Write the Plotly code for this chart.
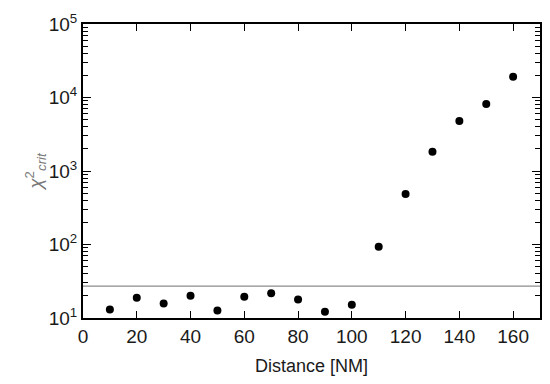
import plotly.graph_objects as go

distance = [10, 20, 30, 40, 50, 60, 70, 80, 90, 100, 110, 120, 130, 140, 150, 160]
chi2_crit = [13.1, 18.9, 15.8, 20.1, 12.6, 19.5, 21.7, 17.9, 12.2, 15.2,
             93, 486, 1830, 4790, 8130, 19200]
threshold = 27.2
x_range = [0, 170]
x_ticks = [0, 20, 40, 60, 80, 100, 120, 140, 160]
y_major = [10, 100, 1000, 10000, 100000]
y_major_text = ["10<sup>1</sup>", "10<sup>2</sup>", "10<sup>3</sup>", "10<sup>4</sup>", "10<sup>5</sup>"]
y_minor = [m * d for d in [10, 100, 1000, 10000] for m in range(2, 10)]

fig = go.Figure()
# threshold line lives on the minor-tick axis (same log range as the main axis)
fig.add_trace(go.Scatter(x=x_range, y=[threshold, threshold], mode="lines", yaxis="y2",
                         line=dict(color="#8c8c8c", width=1.3), showlegend=False))
fig.add_trace(go.Scatter(x=distance, y=chi2_crit, mode="markers",
                         marker=dict(color="black", size=8), showlegend=False))

font = dict(family="Liberation Sans, Arial, sans-serif", size=19, color="#1a1a1a")
fig.update_layout(
    width=542, height=376,
    margin=dict(l=75, r=10, t=16, b=66),
    paper_bgcolor="white", plot_bgcolor="white",
    font=font,
    xaxis=dict(range=x_range, tickvals=x_ticks,
               ticks="inside", ticklen=7, tickwidth=1.2, tickcolor="black",
               showline=True, linecolor="black", linewidth=2, mirror="ticks",
               showgrid=False, zeroline=False, automargin=False,
               title=dict(text="Distance [NM]", standoff=14, font=dict(size=18))),
    yaxis=dict(type="log", range=[1, 5], tickvals=y_major, ticktext=y_major_text,
               ticks="inside", ticklen=8, tickwidth=1.3, tickcolor="black",
               showline=True, linecolor="black", linewidth=2, mirror="ticks",
               showgrid=False, zeroline=False, automargin=False,
               title=dict(text="<i>χ</i><sup>2</sup><sub><i>crit</i></sub>",
                          font=dict(color="#777", size=19), standoff=0)),
    yaxis2=dict(type="log", range=[1, 5], overlaying="y", side="left", anchor="x",
                tickvals=y_minor, showticklabels=False,
                ticks="inside", ticklen=5, tickwidth=1.2, tickcolor="black",
                showline=True, linecolor="black", linewidth=2, mirror="ticks",
                showgrid=False, zeroline=False, automargin=False),
)
fig.write_html("out.html")
